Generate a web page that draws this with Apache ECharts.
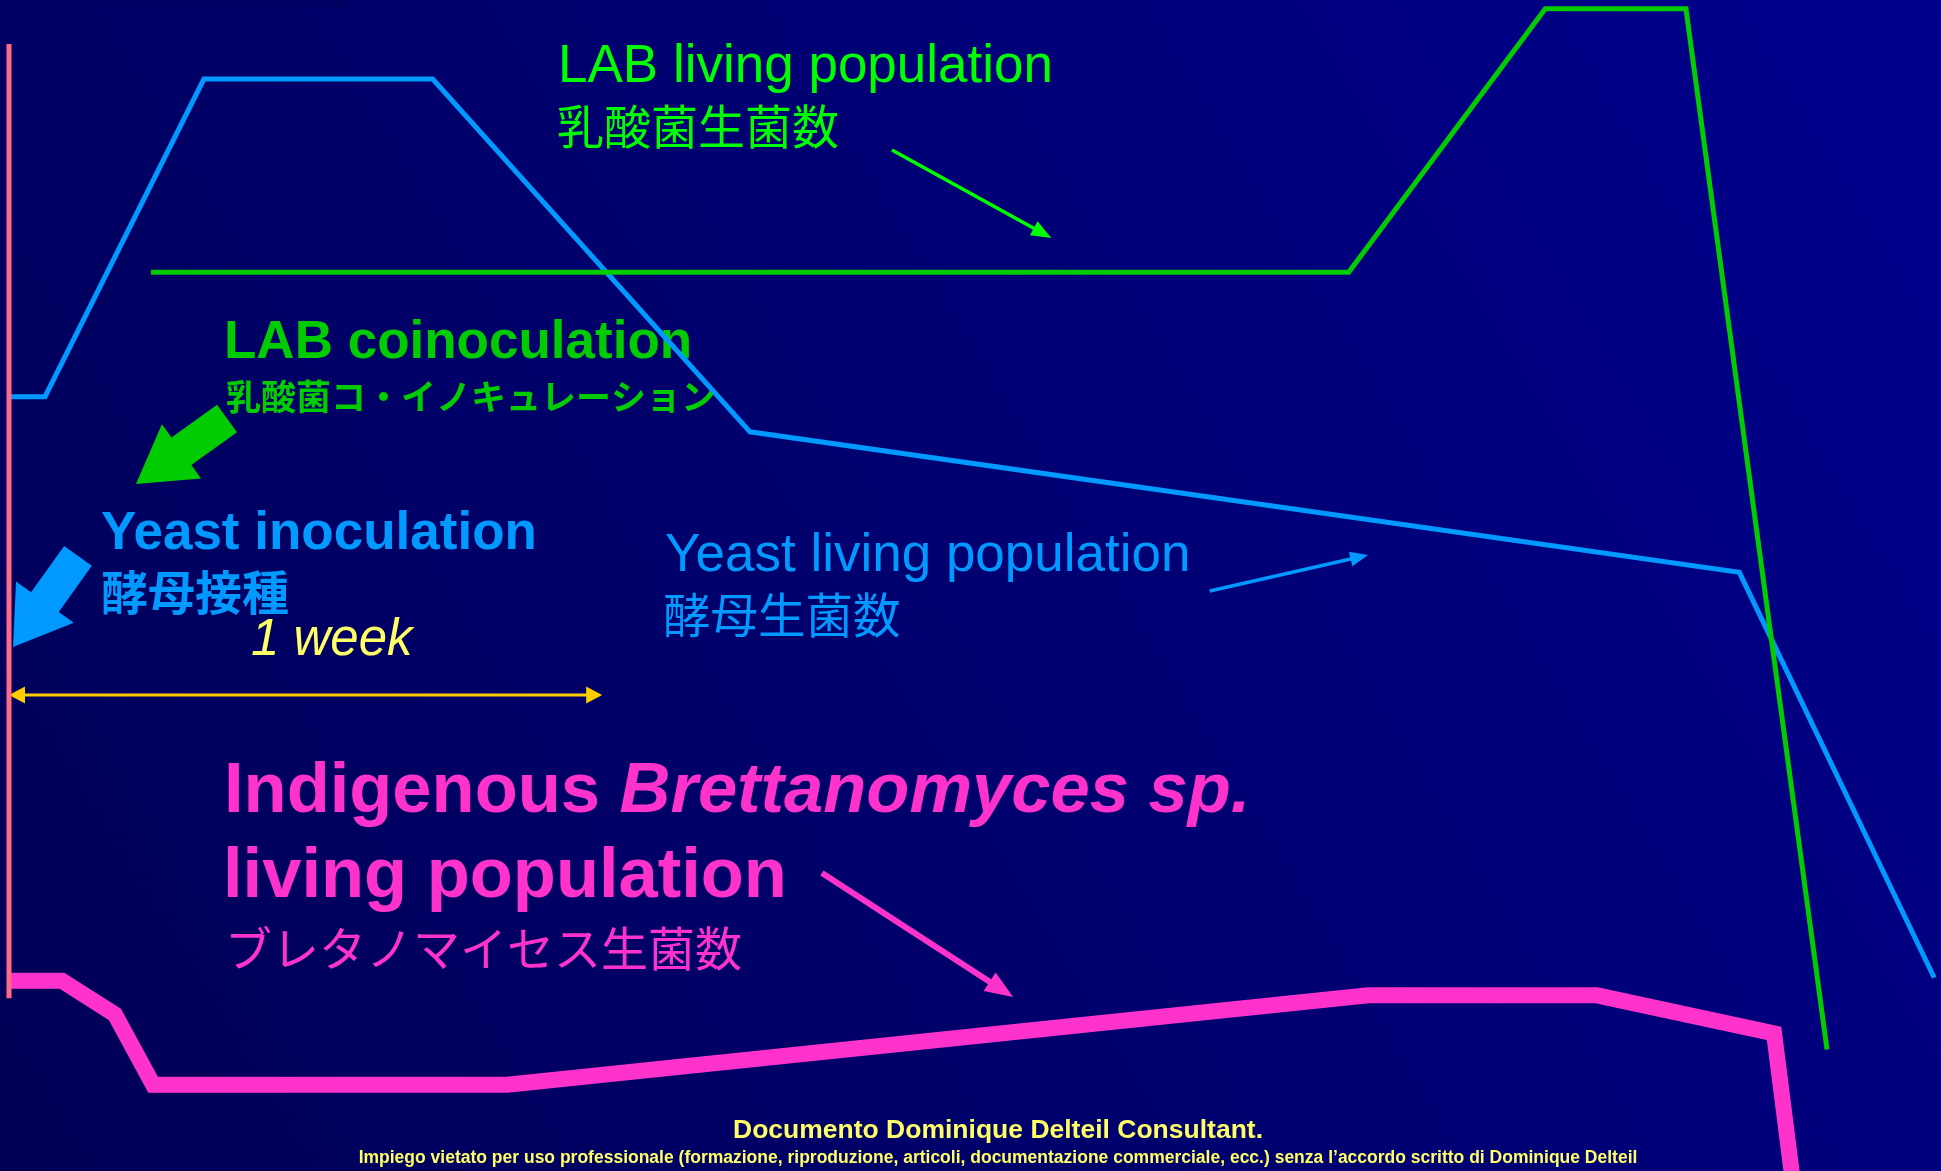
<!DOCTYPE html>
<html><head><meta charset="utf-8">
<script src="https://cdn.jsdelivr.net/npm/echarts@6/dist/echarts.min.js"></script>
<style>html,body{margin:0;padding:0;background:#00006a;overflow:hidden}#c{width:1941px;height:1171px}</style>
</head><body><div id="c"></div>
<script>
// Schematic: x = days after yeast inoculation, y = log living population (schematic units)
const yeastDays = [0, 0.425, 2.30, 5.00, 8.745, 20.42, 22.72];
const yeastLog  = [5.29, 5.29, 7.46, 7.46, 5.05, 4.09, 1.32];
const labDays   = [1.676, 15.81, 18.13, 19.79, 21.455];
const labLog    = [6.14, 6.14, 7.94, 7.94, 0.83];
const brettDays = [0, 0.625, 1.25, 1.70, 5.88, 16.04, 18.74, 20.83, 21.08];
const brettLog  = [1.30, 1.30, 1.07, 0.59, 0.59, 1.20, 1.20, 0.94, -0.2];
const inocDays  = [0, 0];
const inocLog   = [7.70, 1.18];
// annotation arrows: [fromDay, fromLog, toDay, toLog]
const arrowLabLiving   = [10.42, 6.975, 12.30, 6.374];
const arrowYeastLiving = [14.17, 3.962, 16.04, 4.208];
const arrowBrett       = [9.594, 2.036, 11.85, 1.189];
const arrowLabCoinoc   = [2.573, 5.141, 1.499, 4.693];
const arrowYeastInoc   = [0.814, 4.202, 0.047, 3.580];
const weekSpan         = [0, 3.252, 7, 3.252];

const LAT = '"Liberation Sans", Arial, Helvetica, sans-serif';
const CJK = '"Noto Sans CJK JP", "Noto Sans CJK SC", sans-serif';

function zip(a, b) { return a.map((v, i) => [v, b[i]]); }

function arrowSeries(vals, color, shaft, headW, headL, both) {
  return {
    type: 'custom', z: 3, silent: true,
    encode: { x: [0, 2], y: [1, 3] },
    data: [vals],
    renderItem: function (params, api) {
      const p0 = api.coord([api.value(0), api.value(1)]);
      const p1 = api.coord([api.value(2), api.value(3)]);
      const dx = p1[0] - p0[0], dy = p1[1] - p0[1];
      const L = Math.sqrt(dx * dx + dy * dy);
      const ux = dx / L, uy = dy / L, nx = -uy, ny = ux;
      const pt = (b, s) => [b[0] + nx * s, b[1] + ny * s];
      const b1 = [p1[0] - ux * headL, p1[1] - uy * headL];
      let pts;
      if (both) {
        const b0 = [p0[0] + ux * headL, p0[1] + uy * headL];
        pts = [p0, pt(b0, headW / 2), pt(b0, shaft / 2), pt(b1, shaft / 2), pt(b1, headW / 2), p1,
               pt(b1, -headW / 2), pt(b1, -shaft / 2), pt(b0, -shaft / 2), pt(b0, -headW / 2)];
      } else {
        pts = [pt(p0, shaft / 2), pt(b1, shaft / 2), pt(b1, headW / 2), p1,
               pt(b1, -headW / 2), pt(b1, -shaft / 2), pt(p0, -shaft / 2)];
      }
      return { type: 'polygon', shape: { points: pts }, style: { fill: color } };
    }
  };
}

function txt(x, y, text, color, size, family, weight, style, align) {
  return {
    type: 'text', x: x, y: y, z: 1, silent: true,
    style: {
      text: text, fill: color, fontSize: size, fontFamily: family,
      fontWeight: weight || 'normal', fontStyle: style || 'normal',
      verticalAlign: 'middle', align: align || 'left'
    }
  };
}

const chart = echarts.init(document.getElementById('c'), null, { renderer: 'canvas' });
const option = {
  animation: false,
  grid: { left: 9, right: 0, top: 0, bottom: 0, containLabel: false },
  xAxis: { type: 'value', min: 0, max: 22.8, show: false },
  yAxis: { type: 'value', min: 0, max: 8, show: false },
  graphic: [
    { type: 'rect', z: -10, silent: true, shape: { x: 0, y: 0, width: 1941, height: 1171 },
      style: { fill: { type: 'linear', x: 0, y: 1, x2: 1, y2: 0,
        colorStops: [{ offset: 0, color: '#000056' }, { offset: 0.5, color: '#000070' }, { offset: 1, color: '#00008e' }] } } },
    { type: 'rect', z: -9, silent: true, shape: { x: 0, y: 0, width: 345, height: 8 }, style: { fill: '#000062' } },
    txt(558, 67, 'LAB living population', '#00ff00', 53, LAT),
    txt(557, 126, '乳酸菌生菌数', '#00ff00', 47, CJK),
    txt(224, 343, 'LAB coinoculation', '#00cc00', 53, LAT, 'bold'),
    txt(226, 397, '乳酸菌コ・イノキュレーション', '#00cc00', 35, CJK, 'bold'),
    txt(101, 534, 'Yeast inoculation', '#0099ff', 53, LAT, 'bold'),
    txt(101, 592, '酵母接種', '#0099ff', 47, CJK, 'bold'),
    txt(251, 641, '1 week', '#ffff66', 51, LAT, 'normal', 'italic'),
    txt(665, 556, 'Yeast living population', '#0099ff', 53, LAT),
    txt(663, 615, '酵母生菌数', '#0099ff', 47.5, CJK),
    {
      type: 'text', x: 224, y: 793, z: 1, silent: true,
      style: {
        text: '{a|Indigenous }{b|Brettanomyces sp.}', verticalAlign: 'middle', align: 'left',
        rich: {
          a: { fill: '#ff33cc', fontSize: 70.5, fontFamily: LAT, fontWeight: 'bold' },
          b: { fill: '#ff33cc', fontSize: 70.5, fontFamily: LAT, fontWeight: 'bold', fontStyle: 'italic' }
        }
      }
    },
    txt(223, 878, 'living population', '#ff33cc', 70.5, LAT, 'bold'),
    txt(225, 948, 'ブレタノマイセス生菌数', '#ff33cc', 47, CJK),
    txt(998, 1131, 'Documento Dominique Delteil Consultant.', '#ffff66', 26.5, LAT, 'bold', 'normal', 'center'),
    txt(998, 1158, 'Impiego vietato per uso professionale (formazione, riproduzione, articoli, documentazione commerciale, ecc.) senza l\u2019accordo scritto di Dominique Delteil', '#ffff66', 17.5, LAT, 'bold', 'normal', 'center')
  ],
  series: [
    { name: 'Yeast', type: 'line', z: 2, symbol: 'none', silent: true, data: zip(yeastDays, yeastLog),
      lineStyle: { color: '#0099ff', width: 5, join: 'miter' } },
    { name: 'LAB', type: 'line', z: 2, symbol: 'none', silent: true, data: zip(labDays, labLog),
      lineStyle: { color: '#00cc00', width: 5, join: 'miter' } },
    { name: 'Brettanomyces', type: 'line', z: 2, symbol: 'none', silent: true, clip: true, data: zip(brettDays, brettLog),
      lineStyle: { color: '#ff33cc', width: 16, join: 'miter' } },
    { name: 'Inoculation', type: 'line', z: 4, symbol: 'none', silent: true, data: zip(inocDays, inocLog),
      lineStyle: { color: '#ff6b86', width: 5 } },
    arrowSeries(arrowLabLiving, '#00ff00', 3.5, 16, 20, false),
    arrowSeries(arrowYeastLiving, '#0099ff', 3.5, 15, 18, false),
    arrowSeries(arrowBrett, '#ff33cc', 6, 22, 28, false),
    arrowSeries(arrowLabCoinoc, '#00cc00', 34, 67, 56, false),
    arrowSeries(arrowYeastInoc, '#0099ff', 34, 71, 55, false),
    arrowSeries(weekSpan, '#ffcc00', 3, 17, 16, true)
  ]
};
chart.setOption(option);
</script></body></html>
